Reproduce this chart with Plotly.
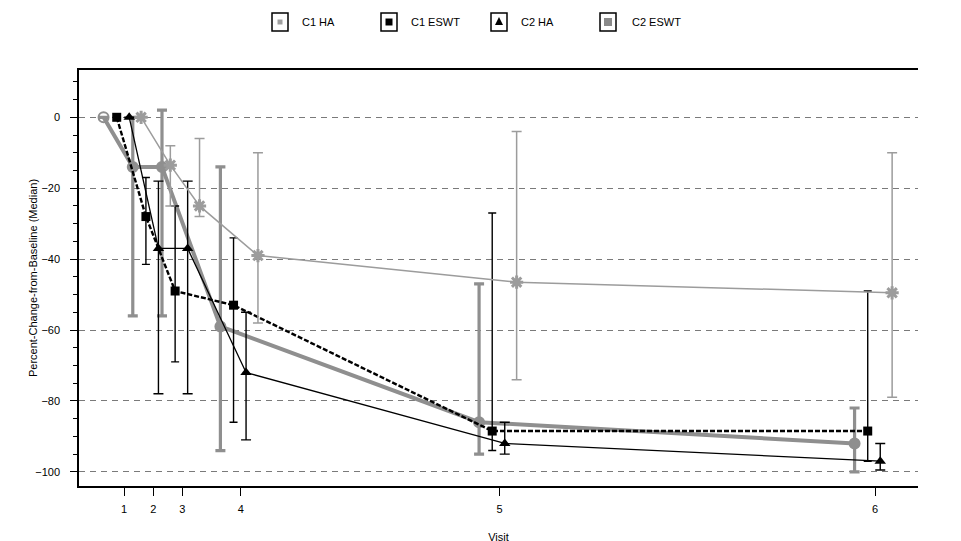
import plotly.graph_objects as go

# ---------------- data ----------------
visit_days = [0, 7, 14, 28, 90, 180]
visit_labels = ["1", "2", "3", "4", "5", "6"]
series_names = ["C1 HA", "C1 ESWT", "C2 HA", "C2 ESWT"]

c1_ha_median = [0, -14, -14, -59, -86, -92]
c1_ha_low = [0, -56, -56, -94, -95, -100]
c1_ha_high = [0, 0, 2, -14, -47, -82]

c1_eswt_median = [0, -28, -49, -53, -88.5, -88.5]
c1_eswt_low = [0, -41.5, -69, -86, -94, -97]
c1_eswt_high = [0, -17, -25, -34, -27, -49]

c2_ha_median = [0, -37, -37, -72, -92, -97]
c2_ha_low = [0, -78, -78, -91, -95, -99.5]
c2_ha_high = [0, -18, -18, -55, -86, -92]

c2_eswt_median = [0, -13.5, -25, -39, -46.5, -49.5]
c2_eswt_low = [0, -25, -28, -58, -74, -79]
c2_eswt_high = [0, -8, -6, -10, -4, -10]

y_ticks = [0, -20, -40, -60, -80, -100]

# ---------------- styles ----------------
dodge = [-4.9, -1.75, 1.25, 4.1]
FONT = "Liberation Sans, Arial, sans-serif"
GRAY1 = "#8f8f8f"
GRAY2 = "#9c9c9c"

styles = [
    dict(color=GRAY1, lw=4, dash="solid", symbol="circle", msize=10, ew=3.2, ecap=5),
    dict(color="black", lw=2.4, dash="5px,2px", symbol="square", msize=9, ew=1.4, ecap=4),
    dict(color="black", lw=1.3, dash="solid", symbol="triangle-up", msize=10, ew=1.4, ecap=5),
    dict(color=GRAY2, lw=1.5, dash="solid", symbol="asterisk-open", msize=11, ew=1.5, ecap=5),
]

data = [
    (c1_ha_median, c1_ha_low, c1_ha_high),
    (c1_eswt_median, c1_eswt_low, c1_eswt_high),
    (c2_ha_median, c2_ha_low, c2_ha_high),
    (c2_eswt_median, c2_eswt_low, c2_eswt_high),
]

fig = go.Figure()
for i, (name, (med, lo, hi), off, st) in enumerate(zip(series_names, data, dodge, styles)):
    xs = [d + off for d in visit_days]
    marker = dict(symbol=st["symbol"], size=st["msize"], color=st["color"])
    if st["symbol"] == "asterisk-open":
        marker["line"] = dict(color=st["color"], width=3)
    if i == 0:
        marker["symbol"] = ["circle-open"] + ["circle"] * (len(med) - 1)
        marker["line"] = dict(color=st["color"], width=2)
    fig.add_trace(go.Scatter(
        x=xs, y=med, name=name, mode="lines+markers",
        line=dict(color=st["color"], width=st["lw"], dash=st["dash"]),
        marker=marker,
        error_y=dict(type="data", symmetric=False,
                     array=[h - m for h, m in zip(hi, med)],
                     arrayminus=[m - l for m, l in zip(med, lo)],
                     color=st["color"], thickness=st["ew"], width=st["ecap"]),
        showlegend=False,
    ))

YR = [-104.0, 13.34]
yax_common = dict(
    range=YR, tickmode="array", tickvals=y_ticks, automargin=False,
    ticks="outside", ticklen=7, tickwidth=1.2, tickcolor="black",
    showline=True, linecolor="black", linewidth=1.5, zeroline=False,
    tickfont=dict(family=FONT, size=11, color="black"),
    minor=dict(tickmode="linear", tick0=0, dtick=5, ticks="outside",
               ticklen=4, tickcolor="black", tickwidth=1, showgrid=False),
)

# the page body adds an 8px offset; margins are set so the plot area lands
# at x 79..918, y 70..486 of the window
fig.update_layout(
    template="none",
    width=961, height=541,
    margin=dict(l=71, r=51, t=62, b=63),
    plot_bgcolor="white", paper_bgcolor="white",
    font=dict(family=FONT, size=11, color="black"),
    showlegend=False,
    xaxis=dict(
        range=[-10.79, 190.3], tickmode="array", tickvals=visit_days,
        ticktext=visit_labels, ticks="outside", ticklen=8, tickwidth=1.2,
        tickcolor="black", showline=True, linecolor="black", linewidth=1.5,
        mirror=True, showgrid=False, zeroline=False, automargin=False,
        ticklabelstandoff=4,
        tickfont=dict(family=FONT, size=11, color="black"),
        title=dict(text="Visit", font=dict(family=FONT, size=11, color="black"),
                   standoff=19),
    ),
    yaxis=dict(
        **yax_common,
        showgrid=True, gridcolor="#7a7a7a", gridwidth=1.3, griddash="6px,5px",
        ticklabelstandoff=8,
        title=dict(text="Percent-Change-from-Baseline (Median)",
                   font=dict(family=FONT, size=11, color="black")),
    ),
    yaxis2=dict(
        **yax_common, overlaying="y", side="right", showgrid=False,
        ticklabelstandoff=8,
    ),
)

# ---------------- manual boxed legend ----------------
PL, PR, PT, PB = 79, 918, 70, 486


def pxx(px):
    return (px - PL) / (PR - PL)


def pyy(py):
    return (PB - py) / (PB - PT)


legend_box_x = [280, 389, 499, 608]
legend_text_x = [300, 409, 519, 630]
legend_y = 22
inner = [
    dict(kind="sq", half=2.5, color="#a0a0a0"),
    dict(kind="sq", half=3.5, color="black"),
    dict(kind="tri", half=4, color="black"),
    dict(kind="sq", half=4, color="#8a8a8a"),
]
shapes = []
annotations = []
for name, bx, tx, inn in zip(series_names, legend_box_x, legend_text_x, inner):
    shapes.append(dict(type="rect", xref="paper", yref="paper",
                       xsizemode="pixel", ysizemode="pixel",
                       xanchor=pxx(bx), yanchor=pyy(legend_y),
                       x0=-8, x1=8, y0=-9, y1=9,
                       line=dict(color="black", width=1.5), fillcolor="white"))
    h = inn["half"]
    if inn["kind"] == "sq":
        shapes.append(dict(type="rect", xref="paper", yref="paper",
                           xsizemode="pixel", ysizemode="pixel",
                           xanchor=pxx(bx), yanchor=pyy(legend_y),
                           x0=-h, x1=h, y0=-h, y1=h,
                           line=dict(width=0), fillcolor=inn["color"]))
    else:
        shapes.append(dict(type="path", xref="paper", yref="paper",
                           xsizemode="pixel", ysizemode="pixel",
                           xanchor=pxx(bx), yanchor=pyy(legend_y),
                           path=f"M{-h},{-h+1} L{h},{-h+1} L0,{h+1} Z",
                           line=dict(width=0), fillcolor=inn["color"]))
    annotations.append(dict(text=name, xref="paper", yref="paper",
                            x=pxx(tx), y=pyy(legend_y), xanchor="left",
                            yanchor="middle", showarrow=False,
                            font=dict(family=FONT, size=11, color="black")))

fig.update_layout(shapes=shapes, annotations=annotations)

fig.write_html("out.html")
